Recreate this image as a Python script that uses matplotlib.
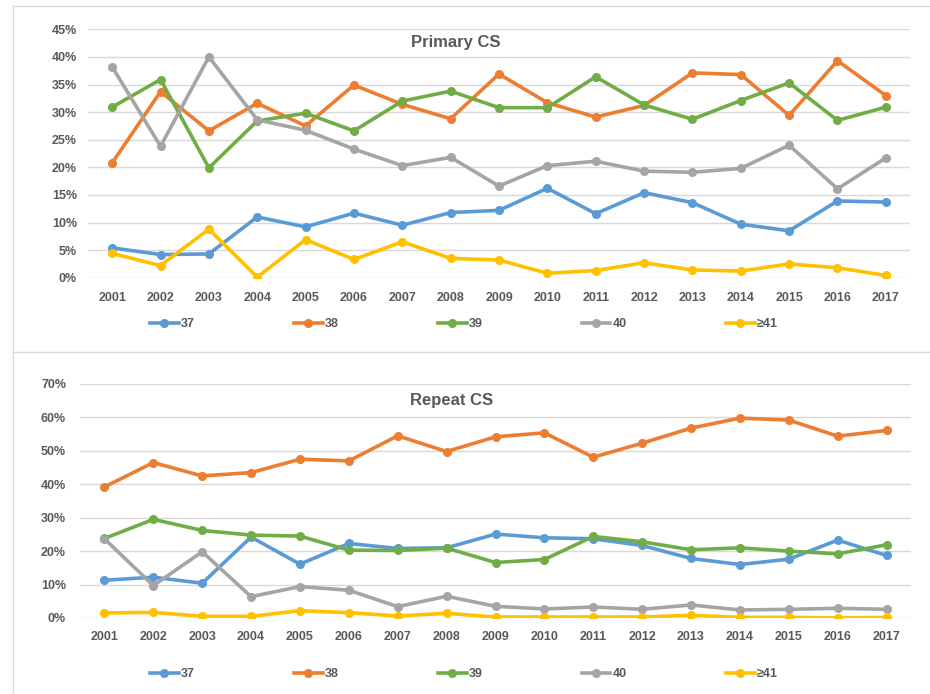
import matplotlib
matplotlib.use('Agg')
from matplotlib import pyplot as plt
from matplotlib.lines import Line2D

plt.rcParams['font.family'] = ['Liberation Sans', 'DejaVu Sans']

years = [str(y) for y in range(2001, 2018)]
series_names = ['37', '38', '39', '40', '≥41']
colors = ['#5B9BD5', '#ED7D31', '#70AD47', '#A5A5A5', '#FFC000']

# Primary CS (%)
primary_37 = [5.4, 4.2, 4.3, 11.0, 9.2, 11.7, 9.5, 11.8, 12.2, 16.2, 11.6, 15.4, 13.6, 9.7, 8.5, 13.9, 13.7]
primary_38 = [20.8, 33.7, 26.6, 31.6, 27.5, 34.9, 31.4, 28.8, 36.9, 31.7, 29.1, 31.2, 37.1, 36.8, 29.4, 39.3, 33.0]
primary_39 = [30.9, 35.9, 19.9, 28.4, 29.8, 26.6, 32.0, 33.8, 30.8, 30.8, 36.4, 31.3, 28.7, 32.1, 35.3, 28.5, 30.9]
primary_40 = [38.2, 23.8, 40.0, 28.6, 26.7, 23.3, 20.3, 21.8, 16.6, 20.3, 21.1, 19.3, 19.1, 19.8, 24.0, 16.1, 21.7]
primary_41 = [4.4, 2.2, 8.8, 0.1, 6.9, 3.3, 6.5, 3.5, 3.2, 0.8, 1.3, 2.7, 1.4, 1.2, 2.5, 1.8, 0.4]

# Repeat CS (%)
repeat_37 = [11.3, 12.2, 10.4, 24.2, 16.1, 22.3, 20.8, 21.0, 25.1, 24.0, 23.7, 21.7, 17.8, 16.0, 17.6, 23.3, 18.7]
repeat_38 = [39.2, 46.5, 42.5, 43.5, 47.5, 47.0, 54.5, 49.8, 54.2, 55.4, 48.1, 52.3, 56.8, 59.8, 59.2, 54.4, 56.1]
repeat_39 = [23.8, 29.5, 26.2, 24.8, 24.5, 20.3, 20.2, 20.9, 16.6, 17.5, 24.4, 22.8, 20.4, 21.0, 20.0, 19.2, 21.9]
repeat_40 = [23.7, 9.7, 19.8, 6.4, 9.4, 8.3, 3.4, 6.5, 3.5, 2.7, 3.3, 2.6, 3.9, 2.4, 2.6, 2.9, 2.6]
repeat_41 = [1.5, 1.7, 0.5, 0.5, 2.2, 1.6, 0.6, 1.4, 0.3, 0.3, 0.3, 0.3, 0.8, 0.2, 0.2, 0.0, 0.2]

W, H = 930, 694
fig = plt.figure(figsize=(W / 100, H / 100), dpi=100)

# 面板边框
grid_c = '#D9D9D9'
fig.add_artist(Line2D([12.5 / W, 12.5 / W], [0, 1 - 6 / H], color=grid_c, lw=1))
fig.add_artist(Line2D([12.5 / W, 1], [1 - 6 / H, 1 - 6 / H], color=grid_c, lw=1))
fig.add_artist(Line2D([12.5 / W, 1], [1 - 352 / H, 1 - 352 / H], color=grid_c, lw=1))

text_c = '#595959'


def panel(rect, data, ymax, ystep, title, title_xy, legend_y, xpad, ypad):
    ax = fig.add_axes(rect)
    x = list(range(len(years)))
    for vals, name, c in zip(data, series_names, colors):
        ax.plot(x, [v / 100 for v in vals], color=c, lw=2.6, marker='o', ms=5.5, label=name)
    ax.set_xlim(-0.5, len(years) - 0.5)
    ax.set_ylim(0, ymax / 100)
    yt = [v / 100 for v in range(0, ymax + 1, ystep)]
    ax.set_yticks(yt)
    ax.set_yticklabels(['%d%%' % round(v * 100) for v in yt])
    ax.set_xticks(x)
    ax.set_xticklabels(years)
    for s in ax.spines.values():
        s.set_visible(False)
    ax.grid(axis='y', color=grid_c, lw=1)
    ax.set_axisbelow(True)
    ax.tick_params(axis='both', length=0, labelsize=9, labelcolor=text_c)
    ax.tick_params(axis='x', pad=xpad)
    ax.tick_params(axis='y', pad=ypad)
    for lab in ax.get_xticklabels() + ax.get_yticklabels():
        lab.set_fontweight('bold')
    fig.text(title_xy[0] / W, 1 - title_xy[1] / H, title, ha='center', va='center',
             fontsize=12, fontweight='bold', color=text_c)
    leg = fig.legend(handles=ax.get_lines(), labels=series_names, ncol=5, mode='expand',
                     bbox_to_anchor=(150 / W, 1 - (legend_y + 8) / H, 628 / W, 16 / H),
                     loc='lower left', frameon=False, handlelength=2.3, handletextpad=0.2,
                     borderpad=0, borderaxespad=0, prop={'size': 9, 'weight': 'bold'})
    for t in leg.get_texts():
        t.set_color(text_c)
    return ax


panel([88 / W, 1 - 277.7 / H, 822 / W, 248.4 / H],
      [primary_37, primary_38, primary_39, primary_40, primary_41],
      45, 5, 'Primary CS', (456, 42), 322, 10, 8)
panel([80 / W, 1 - 618 / H, 831 / W, 234 / H],
      [repeat_37, repeat_38, repeat_39, repeat_40, repeat_41],
      70, 10, 'Repeat CS', (452, 401), 672, 9, 10)

plt.savefig('out.png', dpi=100)
